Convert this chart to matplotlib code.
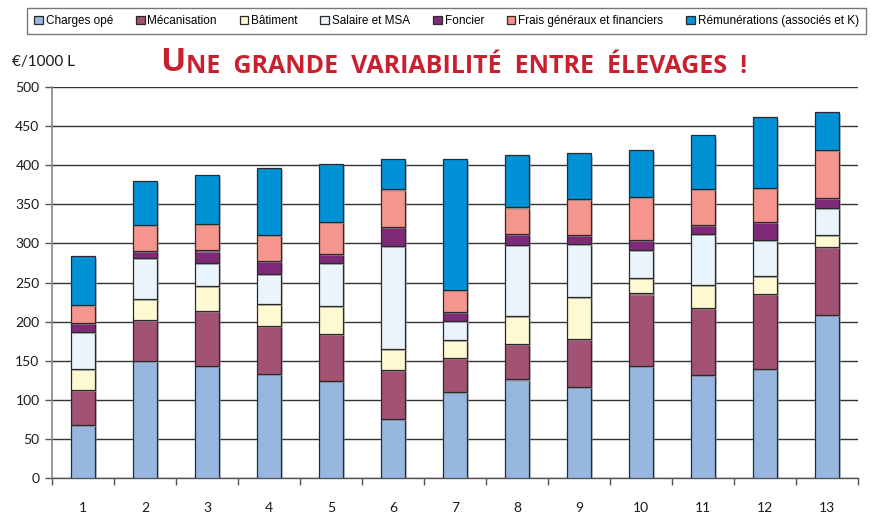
import matplotlib
matplotlib.use("Agg")
import matplotlib.pyplot as plt
import numpy as np
from matplotlib import patheffects as pe

# data (EUR per 1000 L)
farms = [str(i) for i in range(1, 14)]
charges_ope = [68, 150, 143, 133, 124, 76, 110, 126, 117, 143, 132, 139, 208]
mecanisation = [44, 52, 71, 61, 60, 62, 44, 45, 61, 93, 86, 96, 88]
batiment = [28, 27, 31, 29, 36, 27, 23, 36, 53, 20, 29, 23, 15]
salaire_msa = [47, 52, 30, 38, 55, 132, 24, 91, 68, 36, 65, 46, 34]
foncier = [11, 9, 16, 17, 12, 24, 11, 14, 12, 12, 12, 24, 13]
frais = [23, 33, 34, 33, 40, 48, 29, 34, 46, 55, 46, 43, 61]
remunerations = [63, 57, 63, 86, 75, 39, 167, 67, 58, 61, 68, 90, 49]

series = [
    ("Charges opé", charges_ope, "#97b7e0"),
    ("Mécanisation", mecanisation, "#a25272"),
    ("Bâtiment", batiment, "#fff9d2"),
    ("Salaire et MSA", salaire_msa, "#eaf4fc"),
    ("Foncier", foncier, "#7e2a78"),
    ("Frais généraux et financiers", frais, "#f4968d"),
    ("Rémunérations (associés et K)", remunerations, "#0091d7"),
]

fig = plt.figure(figsize=(8.72, 5.14), dpi=100)
ax = fig.add_axes([52 / 872, 1 - 478 / 514, 806 / 872, 391 / 514])

x = np.arange(len(farms))
bottom = np.zeros(len(farms))
shadow = [pe.SimplePatchShadow(offset=(1.5, -1.5), shadow_rgbFace="#999999", alpha=0.6), pe.Normal()]
handles = []
for label, values, color in series:
    bars = ax.bar(x, values, width=0.4, bottom=bottom, color=color,
                  edgecolor="#2a2a2a", linewidth=0.9, label=label, zorder=3)
    for b in bars:
        b.set_path_effects(shadow)
    bottom += np.array(values)
    handles.append(bars)

ax.set_xlim(-0.5, len(farms) - 0.5)
ax.set_ylim(0, 500)
ax.set_yticks(range(0, 501, 50))
ax.yaxis.grid(True, color="#333333", linewidth=1.0, zorder=0)
ax.set_axisbelow(True)

ax.set_xticks(x)
ax.set_xticklabels(farms)
ax.set_xticks(np.arange(-0.5, len(farms), 1), minor=True)
ax.tick_params(axis="x", which="major", length=0, pad=17)
ax.tick_params(axis="x", which="minor", length=5, width=1, color="#555555", direction="out")
ax.tick_params(axis="y", length=5, width=1, color="#555555", pad=4)

for side in ["top", "right"]:
    ax.spines[side].set_visible(False)
ax.spines["left"].set_color("#888888")
ax.spines["left"].set_linewidth(1.2)
ax.spines["bottom"].set_color("#555555")
ax.spines["bottom"].set_linewidth(1.0)

for lbl in ax.get_xticklabels() + ax.get_yticklabels():
    lbl.set_fontfamily("Lato")
    lbl.set_fontsize(10)
    lbl.set_color("#1a1a1a")

fig.text(12 / 872, 1 - 62 / 514, "€/1000 L", family="Lato", fontsize=11,
         color="#1a1a1a", va="center", ha="left")

# small caps title
red = "#c8202f"
t1 = fig.text(160 / 872, 1 - 71 / 514, "U", family="Open Sans", fontweight="bold",
              fontsize=24, color=red, va="baseline", ha="left")
fig.canvas.draw()
ax.annotate("NE  GRANDE  VARIABILITÉ  ENTRE  ÉLEVAGES  !", xy=(1, 0), xycoords=t1,
            xytext=(0.5, 0), textcoords="offset points", va="bottom", ha="left",
            family="Open Sans", fontweight="bold", fontsize=18, color=red,
            annotation_clip=False)

leg = fig.legend(handles=handles, loc="center", ncol=7, mode="expand",
                 bbox_to_anchor=(27 / 872, 1 - 38 / 514, 839 / 872, 34 / 514),
                 prop={"family": "Liberation Sans", "size": 8.5},
                 handlelength=0.75, handleheight=0.75, handletextpad=0.25,
                 columnspacing=1.5, borderaxespad=0, borderpad=0.6,
                 frameon=True, fancybox=False)
leg.get_frame().set_edgecolor("#555555")
leg.get_frame().set_linewidth(1.0)
for h in leg.legend_handles:
    h.set_path_effects([])

fig.savefig("out.png", dpi=100)
